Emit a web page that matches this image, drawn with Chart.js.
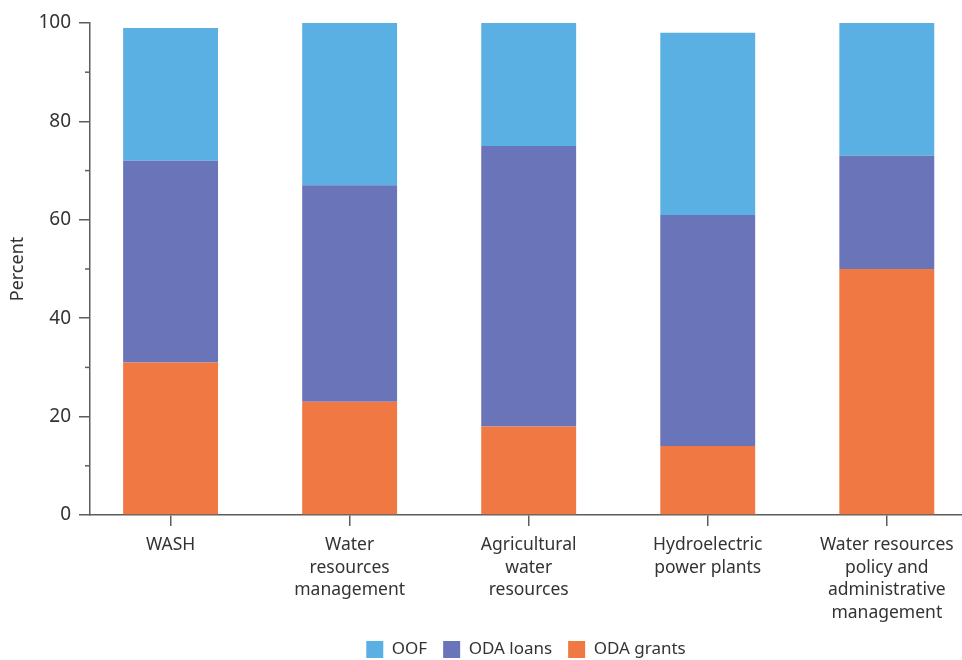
<!DOCTYPE html>
<html>
<head>
<meta charset="utf-8">
<script src="https://cdn.jsdelivr.net/npm/chart.js@4"></script>
<style>
  html, body { margin: 0; padding: 0; background: #fff; overflow: hidden; }
  #wrap { width: 962px; height: 660px; }
</style>
</head>
<body>
<div id="wrap"><canvas id="myChart"></canvas></div>
<script>
// categories (tick labels, one entry per line)
const categories = [
  ['WASH'],
  ['Water', 'resources', 'management'],
  ['Agricultural', 'water', 'resources'],
  ['Hydroelectric', 'power plants'],
  ['Water resources', 'policy and', 'administrative', 'management']
];

// percent shares, bottom to top
const odaGrants = [31, 23, 18, 14, 50];
const odaLoans  = [41, 44, 57, 47, 23];
const oof       = [27, 33.2, 25, 37, 27.2];

const yTicks = [0, 20, 40, 60, 80, 100];
const yMinorTicks = [10, 30, 50, 70, 90];

const axisColor = '#5c5c5c';
const textColor = '#333333';
const fontFamily = '"Noto Sans", "Open Sans", sans-serif';

function toPoints(arr) {
  return arr.map((v, i) => ({ x: i, y: v }));
}

// short minor ticks on the y axis
const minorTicks = {
  id: 'minorTicks',
  afterDraw(chart) {
    const y = chart.scales.y;
    const c = chart.ctx;
    c.save();
    c.strokeStyle = axisColor;
    c.lineWidth = 1.5;
    yMinorTicks.forEach((v) => {
      const py = y.getPixelForValue(v);
      c.beginPath();
      c.moveTo(y.right - 5, py);
      c.lineTo(y.right, py);
      c.stroke();
    });
    c.restore();
  }
};

const ctx = document.getElementById('myChart').getContext('2d');

const myChart = new Chart(ctx, {
  type: 'bar',
  data: {
    datasets: [
      { label: 'ODA grants', data: toPoints(odaGrants), backgroundColor: '#EF7843' },
      { label: 'ODA loans', data: toPoints(odaLoans), backgroundColor: '#6A74B8' },
      { label: 'OOF', data: toPoints(oof), backgroundColor: '#5AB0E3' }
    ]
  },
  options: {
    responsive: true,
    maintainAspectRatio: false,
    animation: false,
    categoryPercentage: 1,
    barPercentage: 0.53,
    layout: { padding: { top: 23, right: 0, bottom: 0, left: 0 } },
    plugins: {
      tooltip: { enabled: false },
      legend: {
        position: 'bottom',
        fullSize: false,
        reverse: true,
        maxHeight: 35,
        labels: {
          boxWidth: 17,
          boxHeight: 17,
          padding: 16,
          color: textColor,
          font: { family: fontFamily, size: 17 }
        }
      }
    },
    scales: {
      x: {
        type: 'linear',
        stacked: true,
        offset: false,
        min: -0.45,
        max: 4.42,
        afterBuildTicks(scale) {
          scale.ticks = categories.map((c, i) => ({ value: i }));
        },
        afterFit(scale) {
          scale.height = 110;
        },
        border: { display: true, color: axisColor, width: 1.5 },
        grid: {
          offset: false,
          drawOnChartArea: false,
          drawTicks: true,
          tickLength: 11,
          color: axisColor,
          lineWidth: 1.5
        },
        ticks: {
          maxRotation: 0,
          autoSkip: false,
          padding: 8,
          color: textColor,
          font: { family: fontFamily, size: 17.5, lineHeight: 1.29 },
          callback: (value) => categories[value]
        }
      },
      y: {
        stacked: true,
        min: 0,
        max: 100,
        afterBuildTicks(scale) {
          scale.ticks = yTicks.map((v) => ({ value: v }));
        },
        afterFit(scale) {
          scale.width = 90;
        },
        border: { display: true, color: axisColor, width: 1.5 },
        grid: {
          drawOnChartArea: false,
          drawTicks: true,
          tickLength: 11,
          color: axisColor,
          lineWidth: 1.5
        },
        ticks: {
          padding: 8,
          color: textColor,
          font: { family: fontFamily, size: 19 }
        },
        title: {
          display: true,
          text: 'Percent',
          color: textColor,
          padding: { top: 7, bottom: 0 },
          font: { family: fontFamily, size: 18 }
        }
      }
    }
  },
  plugins: [minorTicks]
});
</script>
</body>
</html>
